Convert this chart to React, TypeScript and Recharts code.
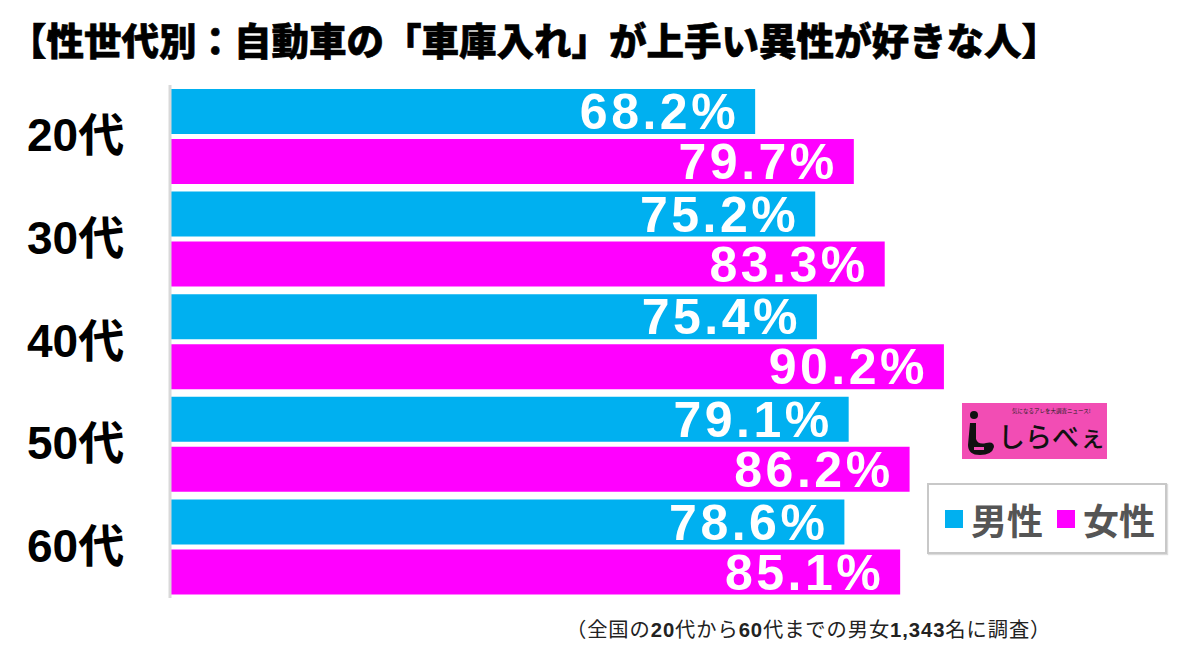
import React from 'react';
import { BarChart, Bar, XAxis, YAxis, LabelList, Legend } from 'recharts';

const ages = ['20代', '30代', '40代', '50代', '60代'];
const maleValues = [68.2, 75.2, 75.4, 79.1, 78.6];
const femaleValues = [79.7, 83.3, 90.2, 86.2, 85.1];
const seriesNames = ['男性', '女性'];
const seriesColors = ['#00B0F0', '#FF00FF'];
const titleText = '【性世代別：自動車の「車庫入れ」が上手い異性が好きな人】';

const data = ages.map((age, i) => ({ age, male: maleValues[i], female: femaleValues[i] }));

const LATIN = "'Liberation Sans', Arial, 'Noto Sans CJK JP', sans-serif";
const CJK = "'Noto Sans CJK JP', 'Liberation Sans', sans-serif";

const fmt = (v: any) => `${Number(v).toFixed(1)}%`;

const AgeTick = (props: any) => {
  const { y, payload } = props;
  return (
    <text x={27} y={y + 15} fontSize={46} fontWeight="bold" fontFamily={LATIN} fill="#000">
      {payload.value}
    </text>
  );
};

const LegendBox = () => (
  <div
    style={{
      position: 'absolute',
      left: 927,
      top: 483,
      width: 236,
      height: 67,
      border: '2px solid #c8c8c8',
      boxShadow: '1px 1px 1px #ddd',
      background: '#fff',
      display: 'flex',
      alignItems: 'center',
      fontFamily: CJK,
      fontWeight: 'bold',
      fontSize: 36,
      color: '#555',
    }}
  >
    {seriesNames.map((n, i) => (
      <div key={n} style={{ display: 'flex', alignItems: 'center', marginLeft: i === 0 ? 16 : 14 }}>
        <div style={{ width: 18, height: 18, background: seriesColors[i], marginRight: 8 }} />
        <span style={{ lineHeight: '36px' }}>{n}</span>
      </div>
    ))}
  </div>
);

const Logo = () => (
  <div
    style={{
      position: 'absolute',
      left: 962,
      top: 403,
      width: 145,
      height: 56,
      background: '#F24DB4',
      overflow: 'hidden',
    }}
  >
    <svg width={145} height={56} style={{ position: 'absolute', left: 0, top: 0 }}>
      <circle cx={12} cy={12} r={4} fill="#111" />
      <path d="M8 20 L14 20 L14 36 Q16 42 24 40 Q32 38 32 44 Q30 52 18 52 Q6 52 6 42 Z" fill="#111" />
      <rect x={12} y={44} width={10} height={3} fill="#F24DB4" />
    </svg>
    <div
      style={{
        position: 'absolute',
        left: 50,
        top: 5,
        fontSize: 5.5,
        lineHeight: '7px',
        fontFamily: CJK,
        color: '#222',
        whiteSpace: 'nowrap',
      }}
    >
      気になるアレを大調査ニュース!
    </div>
    <div
      style={{
        position: 'absolute',
        left: 36,
        top: 15,
        fontSize: 27,
        lineHeight: '36px',
        fontFamily: CJK,
        fontWeight: 500,
        color: '#111',
        whiteSpace: 'nowrap',
      }}
    >
      しらべぇ
    </div>
  </div>
);

export default function App() {
  return (
    <div style={{ position: 'absolute', left: 0, top: 0, width: 1200, height: 658, background: '#fff', overflow: 'hidden' }}>
      <svg width={1200} height={80} style={{ position: 'absolute', left: 0, top: 0 }}>
        <text x={9} y={55} fontSize={37.5} fontWeight={900} fontFamily={CJK} fill="#000" stroke="#000" strokeWidth={0.6}>
          {titleText}
        </text>
      </svg>
      <div style={{ position: 'absolute', left: 0, top: 0 }}>
        <BarChart
          width={1200}
          height={658}
          data={data}
          layout="vertical"
          margin={{ top: 85, right: 172, bottom: 60, left: 0 }}
          barGap={5}
          barCategoryGap={4}
        >
          <XAxis type="number" domain={[0, 100]} hide />
          <YAxis
            type="category"
            dataKey="age"
            width={170}
            axisLine={{ stroke: '#d9d9d9', strokeWidth: 3 }}
            tickLine={false}
            tick={<AgeTick />}
          />
          <Legend content={() => null} />
          <Bar dataKey="male" name={seriesNames[0]} fill={seriesColors[0]} isAnimationActive={false}>
            <LabelList
              dataKey="male"
              position="insideRight"
              offset={16}
              formatter={fmt}
              fill="#fff"
              fontSize={50}
              fontWeight="bold"
              fontFamily={LATIN}
              letterSpacing={3.5}
            />
          </Bar>
          <Bar dataKey="female" name={seriesNames[1]} fill={seriesColors[1]} isAnimationActive={false}>
            <LabelList
              dataKey="female"
              position="insideRight"
              offset={16}
              formatter={fmt}
              fill="#fff"
              fontSize={50}
              fontWeight="bold"
              fontFamily={LATIN}
              letterSpacing={3.5}
            />
          </Bar>
        </BarChart>
      </div>
      <Logo />
      <LegendBox />
      <div
        style={{
          position: 'absolute',
          left: 566,
          top: 615,
          fontSize: 20.3,
          letterSpacing: 0.9,
          lineHeight: '26px',
          fontFamily: CJK,
          color: '#222',
          whiteSpace: 'nowrap',
        }}
      >
        （全国の<b style={{ fontFamily: LATIN }}>20</b>代から<b style={{ fontFamily: LATIN }}>60</b>代までの男女
        <b style={{ fontFamily: LATIN }}>1,343</b>名に調査）
      </div>
    </div>
  );
}
